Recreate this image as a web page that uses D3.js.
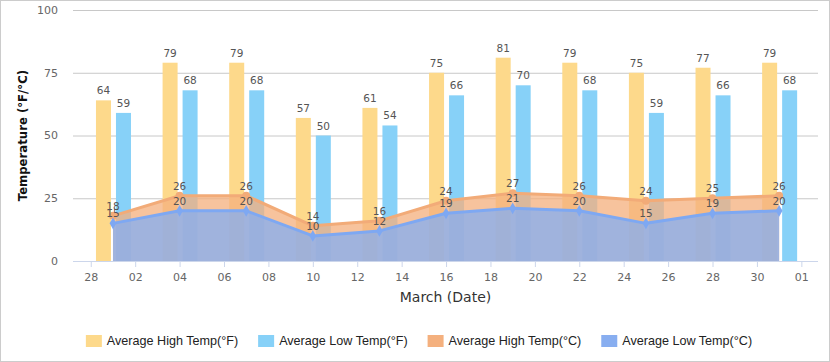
<!DOCTYPE html>
<html>
<head>
<meta charset="utf-8">
<script src="https://cdn.jsdelivr.net/npm/d3@7"></script>
<style>
  html, body { margin: 0; padding: 0; background: #fff; }
  svg { display: block; }
</style>
</head>
<body>
<div id="chart"></div>
<script>
// March, every 3rd day
const days = [1, 4, 7, 10, 13, 16, 19, 22, 25, 28, 31];
const highF = [64, 79, 79, 57, 61, 75, 81, 79, 75, 77, 79];
const lowF = [59, 68, 68, 50, 54, 66, 70, 68, 59, 66, 68];
const highC = [18, 26, 26, 14, 16, 24, 27, 26, 24, 25, 26];
const lowC = [15, 20, 20, 10, 12, 19, 21, 20, 15, 19, 20];
const yTicks = [0, 25, 50, 75, 100];
const seriesNames = ['Average High Temp(°F)', 'Average Low Temp(°F)', 'Average High Temp(°C)', 'Average Low Temp(°C)'];
const colors = ['#fdd98b', '#87d1f8', '#f4b07e', '#88aef0'];

const W = 830, H = 362;
const margin = { top: 10, right: 12, bottom: 101, left: 73 };

const data = days.map((d, i) => ({
  date: new Date(2023, 2, d),
  hf: highF[i], lf: lowF[i], hc: highC[i], lc: lowC[i]
}));

const svg = d3.select('#chart').append('svg')
  .attr('width', W).attr('height', H);

// outer frame
svg.append('rect')
  .attr('x', 0.5).attr('y', 0.5)
  .attr('width', W - 1).attr('height', H - 1)
  .attr('fill', '#fff').attr('stroke', '#ccc');

const first = data[0].date, last = data[data.length - 1].date;
const dayMs = 864e5;
const x = d3.scaleTime()
  .domain([new Date(+first - 1.8 * dayMs), new Date(+last + 1.75 * dayMs)])
  .range([margin.left, W - margin.right]);

const y = d3.scaleLinear()
  .domain([0, 100])
  .range([H - margin.bottom, margin.top]);

// grid lines
svg.append('g')
  .selectAll('line')
  .data(yTicks.filter(t => t > 0))
  .join('line')
  .attr('x1', margin.left).attr('x2', W - margin.right)
  .attr('y1', d => y(d) + 0.5).attr('y2', d => y(d) + 0.5)
  .attr('stroke', '#c8c8c8');

// y labels
svg.append('g')
  .selectAll('text')
  .data(yTicks)
  .join('text')
  .attr('x', 58)
  .attr('y', d => y(d))
  .attr('dy', '0.35em')
  .attr('text-anchor', 'end')
  .style('font-family', 'DejaVu Sans, sans-serif')
  .style('font-size', '11px')
  .style('fill', '#666')
  .text(d => d);

// x axis
const xTicks = d3.timeDay.range(new Date(2023, 1, 28), new Date(2023, 3, 2), 2);
const xAxis = svg.append('g')
  .attr('transform', `translate(0,${y(0)})`)
  .call(d3.axisBottom(x)
    .tickValues(xTicks)
    .tickSize(6)
    .tickSizeOuter(0)
    .tickPadding(6)
    .tickFormat(d3.timeFormat('%d')));
xAxis.select('.domain').attr('stroke', '#ccd6eb').attr('d', `M${margin.left},0.5H${W - margin.right}`);
xAxis.selectAll('.tick line').attr('stroke', '#ccd6eb');
xAxis.selectAll('text')
  .style('font-family', 'DejaVu Sans, sans-serif')
  .style('font-size', '11px')
  .style('fill', '#666');

// bars
const barW = 15;
svg.append('g')
  .selectAll('rect')
  .data(data)
  .join('rect')
  .attr('x', d => x(d.date) - 17)
  .attr('y', d => y(d.hf))
  .attr('width', barW)
  .attr('height', d => y(0) - y(d.hf))
  .attr('fill', colors[0]);

svg.append('g')
  .selectAll('rect')
  .data(data)
  .join('rect')
  .attr('x', d => x(d.date) + 3)
  .attr('y', d => y(d.lf))
  .attr('width', barW)
  .attr('height', d => y(0) - y(d.lf))
  .attr('fill', colors[1]);

// areas
const areaHigh = d3.area().x(d => x(d.date)).y0(y(0)).y1(d => y(d.hc));
const areaLow = d3.area().x(d => x(d.date)).y0(y(0)).y1(d => y(d.lc));
const lineHigh = d3.line().x(d => x(d.date)).y(d => y(d.hc));
const lineLow = d3.line().x(d => x(d.date)).y(d => y(d.lc));

svg.append('path').datum(data)
  .attr('d', areaHigh)
  .attr('fill', colors[2]).attr('fill-opacity', 0.76);
svg.append('path').datum(data)
  .attr('d', areaLow)
  .attr('fill', colors[3]).attr('fill-opacity', 0.78);

svg.append('path').datum(data)
  .attr('d', lineHigh)
  .attr('fill', 'none').attr('stroke', '#f2ab78').attr('stroke-width', 3)
  .attr('stroke-linejoin', 'round');
svg.append('path').datum(data)
  .attr('d', lineLow)
  .attr('fill', 'none').attr('stroke', '#7ea8f2').attr('stroke-width', 3)
  .attr('stroke-linejoin', 'round');

// markers
svg.append('g')
  .selectAll('circle')
  .data(data)
  .join('circle')
  .attr('cx', d => x(d.date))
  .attr('cy', d => y(d.hc))
  .attr('r', 4)
  .attr('fill', '#f2ab78');
svg.append('g')
  .selectAll('path')
  .data(data)
  .join('path')
  .attr('transform', d => `translate(${x(d.date)},${y(d.lc)})`)
  .attr('d', d3.symbol().type(d3.symbolDiamond).size(40))
  .attr('fill', '#7ea8f2');

// value labels
const labelStyle = sel => sel
  .attr('text-anchor', 'middle')
  .style('font-family', 'DejaVu Sans, sans-serif')
  .style('font-size', '10.5px')
  .style('fill', '#555');

svg.append('g').selectAll('text').data(data).join('text')
  .attr('x', d => x(d.date) - 17 + barW / 2)
  .attr('y', d => y(d.hf) - 6)
  .call(labelStyle)
  .text(d => d.hf);
svg.append('g').selectAll('text').data(data).join('text')
  .attr('x', d => x(d.date) + 3 + barW / 2)
  .attr('y', d => y(d.lf) - 6)
  .call(labelStyle)
  .text(d => d.lf);
svg.append('g').selectAll('text').data(data).join('text')
  .attr('x', d => x(d.date))
  .attr('y', d => y(d.hc) - 6)
  .call(labelStyle)
  .text(d => d.hc);
svg.append('g').selectAll('text').data(data).join('text')
  .attr('x', d => x(d.date))
  .attr('y', d => y(d.lc) - 6)
  .call(labelStyle)
  .text(d => d.lc);

// axis titles
svg.append('text')
  .attr('transform', `translate(27,${(y(0) + y(100)) / 2}) rotate(-90)`)
  .attr('text-anchor', 'middle')
  .style('font-family', 'DejaVu Sans Condensed, DejaVu Sans, sans-serif')
  .style('font-weight', 'bold')
  .style('font-size', '13px')
  .style('fill', '#111')
  .text('Temperature (°F/°C)');

svg.append('text')
  .attr('x', (margin.left + W - margin.right) / 2)
  .attr('y', 302)
  .attr('text-anchor', 'middle')
  .style('font-family', 'DejaVu Sans, sans-serif')
  .style('font-size', '14px')
  .style('fill', '#333')
  .text('March (Date)');

// legend
const legend = svg.append('g').attr('transform', 'translate(0,335)');
const items = legend.selectAll('g').data(seriesNames).join('g');
items.append('rect')
  .attr('width', 16).attr('height', 12)
  .attr('fill', (d, i) => colors[i]);
items.append('text')
  .attr('x', 21).attr('y', 10)
  .style('font-family', 'Liberation Sans, Arial, sans-serif')
  .style('font-size', '12.6px')
  .style('fill', '#222')
  .text(d => d);
let offset = 0;
const widths = [];
items.each(function() {
  widths.push(21 + this.querySelector('text').getComputedTextLength());
});
const gap = 20;
const total = d3.sum(widths) + gap * (widths.length - 1);
offset = 419 - total / 2;
items.attr('transform', (d, i) => {
  const t = `translate(${offset},0)`;
  offset += widths[i] + gap;
  return t;
});
</script>
</body>
</html>
